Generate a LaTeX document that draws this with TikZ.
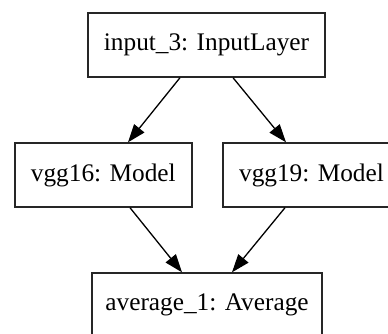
\documentclass[tikz,border=0pt]{standalone}
\usepackage{fontspec}
\setmainfont{Liberation Serif}
\usetikzlibrary{arrows.meta}
\begin{document}
\begin{tikzpicture}[x=1pt,y=-1pt,
  layerbox/.style={draw=black!85,line width=1.4pt,minimum height=64pt,inner sep=0pt,font=\fontsize{25.3}{28}\selectfont,fill=white},
  arr/.style={line width=1.3pt,-{Triangle[length=18pt,width=13pt]}}]
\useasboundingbox (0,0) rectangle (388,333);
\clip (0,0) rectangle (388,333);
\fill[white] (0,0) rectangle (388,333);
\node[layerbox,minimum width=237pt] (in) at (206.5,45) {input\_3: InputLayer};
\node[layerbox,minimum width=177pt] (v16) at (103.3,175) {vgg16: Model};
\node[layerbox,minimum width=177pt] (v19) at (311.5,175) {vgg19: Model};
\node[layerbox,minimum width=230pt] (avg) at (207,305) {average\_1: Average};
\draw[arr] ([xshift=-26.5pt]in.south) -- ([xshift=24.7pt]v16.north);
\draw[arr] ([xshift=26.5pt]in.south) -- ([xshift=-25.5pt]v19.north);
\draw[arr] ([xshift=26.7pt]v16.south) -- ([xshift=-25pt]avg.north);
\draw[arr] ([xshift=-26.5pt]v19.south) -- ([xshift=25pt]avg.north);
\end{tikzpicture}
\end{document}
